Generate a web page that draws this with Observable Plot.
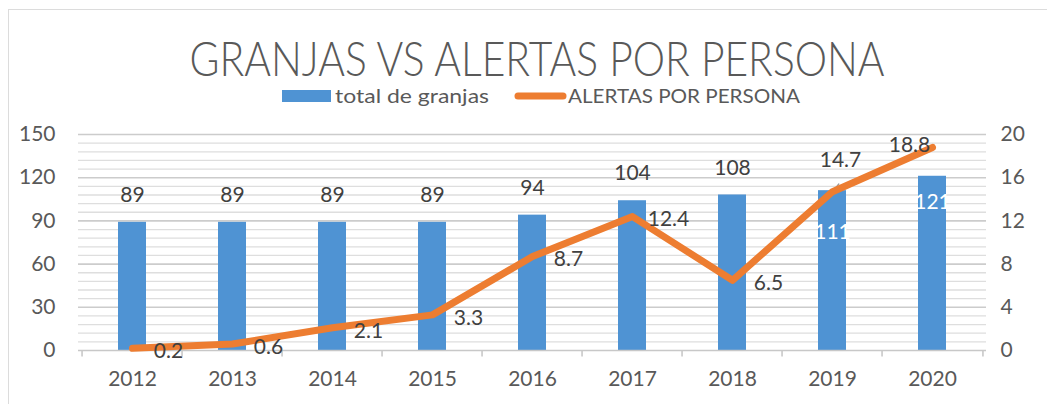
<!DOCTYPE html>
<html>
<head>
<meta charset="utf-8">
<script src="https://cdn.jsdelivr.net/npm/d3@7"></script>
<script src="https://cdn.jsdelivr.net/npm/@observablehq/plot@0.6"></script>
<style>
  html, body { margin: 0; padding: 0; background: #fff; }
  #wrap { position: relative; width: 1047px; height: 404px; overflow: hidden; font-family: Lato, "Open Sans", sans-serif; }
  #wrap > svg { position: absolute; left: 0; top: 0; }
</style>
</head>
<body>
<div id="wrap">
  <svg id="deco" width="1047" height="404" style="z-index:0">
    <rect x="8.5" y="9.5" width="1060" height="420" fill="none" stroke="#dcdcdc" stroke-width="1"/>
  </svg>
</div>
<script>
const title = "GRANJAS VS ALERTAS POR PERSONA";
const years = ["2012","2013","2014","2015","2016","2017","2018","2019","2020"];
const totalGranjas = [89, 89, 89, 89, 94, 104, 108, 111, 121];
const alertasPorPersona = [0.2, 0.6, 2.1, 3.3, 8.7, 12.4, 6.5, 14.7, 18.8];
const leftTicks = [0, 30, 60, 90, 120, 150];
const rightTicks = [0, 4, 8, 12, 16, 20];
const seriesNames = ["total de granjas", "ALERTAS POR PERSONA"];

const BLUE = "#4f93d3";
const ORANGE = "#ed7d31";
const TXT = "#595959";
const ratio = 150 / 20; // right axis 0–20 mapped onto left axis 0–150

const rows = years.map((y, i) => ({year: y, granjas: totalGranjas[i], alertas: alertasPorPersona[i], ay: alertasPorPersona[i] * ratio}));
const minor = d3.range(0, 151, 6).filter(v => v % 30 !== 0);
const step = (1047 - 61 - 78) / years.length;

const barsAbove = rows.filter(d => d.year !== "2019" && d.year !== "2020");
const lineRight = rows.filter(d => d.year !== "2019" && d.year !== "2020");

const chart = Plot.plot({
  width: 1047,
  height: 404,
  marginTop: 134,
  marginBottom: 54,
  marginLeft: 78,
  marginRight: 61,
  style: {fontFamily: "Lato, 'Open Sans', sans-serif", fontSize: "21px", color: TXT, background: "transparent"},
  x: {type: "band", domain: years, paddingInner: 0.72, paddingOuter: 0.36, label: null},
  y: {domain: [0, 150], label: null},
  marks: [
    Plot.ruleY(minor, {stroke: "#dedede", strokeWidth: 1.3}),
    Plot.ruleY(leftTicks.filter(v => v > 0), {stroke: "#cccccc", strokeWidth: 1.6}),
    Plot.barY(rows, {x: "year", y: "granjas", fill: BLUE}),
    Plot.ruleY([0], {stroke: "#c8c8c8", strokeWidth: 1.6}),
    Plot.ruleX(years, {x: d => d, dx: -step / 2, y1: 0, y2: -4.5, stroke: "#c8c8c8", strokeWidth: 1.6}),
    Plot.ruleX(years.slice(-1), {x: d => d, dx: step / 2, y1: 0, y2: -4.5, stroke: "#c8c8c8", strokeWidth: 1.6}),
    Plot.axisY(leftTicks, {anchor: "left", tickSize: 0, tickPadding: 23, fontSize: 21, fill: TXT}),
    Plot.axisY(leftTicks, {anchor: "right", tickSize: 0, tickPadding: 14, tickFormat: d => d / ratio, fontSize: 21, fill: TXT}),
    Plot.axisX(years, {anchor: "bottom", tickSize: 0, tickPadding: 21, fontSize: 21, fill: TXT}),
    Plot.text(barsAbove, {x: "year", y: "granjas", text: d => String(d.granjas), dy: -27, fill: "#404040", fontSize: 21}),
    Plot.text(rows.filter(d => d.year === "2019"), {x: "year", y: "granjas", text: d => String(d.granjas), dy: 42, fill: "#ffffff", fontSize: 21}),
    Plot.text(rows.filter(d => d.year === "2020"), {x: "year", y: "granjas", text: d => String(d.granjas), dy: 26, fill: "#ffffff", fontSize: 21}),
    Plot.vector(rows.filter(d => d.year === "2019"), {x: "year", y: "ay", rotate: 39, length: 20, stroke: "#9a9a9a", strokeWidth: 1.3,
      shape: {draw(ctx, l) { ctx.moveTo(0, 0); ctx.lineTo(0, -l); }}}),
    Plot.lineY(rows, {x: "year", y: "ay", stroke: ORANGE, strokeWidth: 7, strokeLinecap: "round", strokeLinejoin: "round"}),
    Plot.text(lineRight, {x: "year", y: "ay", text: d => String(d.alertas), dx: 36, dy: 3, fill: "#404040", fontSize: 21}),
    Plot.text(rows.filter(d => d.year === "2019"), {x: "year", y: "ay", text: d => String(d.alertas), dx: 8, dy: -31, fill: "#404040", fontSize: 21}),
    Plot.text(rows.filter(d => d.year === "2020"), {x: "year", y: "ay", text: d => String(d.alertas), dx: -23, dy: -2, fill: "#404040", fontSize: 21})
  ]
});
document.getElementById("wrap").appendChild(chart);

// title and legend overlay
const ns = "http://www.w3.org/2000/svg";
const over = document.createElementNS(ns, "svg");
over.setAttribute("width", 1047); over.setAttribute("height", 130);
const t = document.createElementNS(ns, "text");
t.setAttribute("x", 537); t.setAttribute("y", 76); t.setAttribute("text-anchor", "middle");
t.setAttribute("font-size", 48); t.setAttribute("font-weight", 300); t.setAttribute("fill", TXT);
t.setAttribute("font-family", "Lato, 'Open Sans', sans-serif");
t.setAttribute("textLength", 695); t.setAttribute("lengthAdjust", "spacingAndGlyphs");
t.textContent = title;
over.appendChild(t);
const sw = document.createElementNS(ns, "rect");
sw.setAttribute("x", 282); sw.setAttribute("y", 90); sw.setAttribute("width", 49); sw.setAttribute("height", 12); sw.setAttribute("fill", BLUE);
over.appendChild(sw);
const l1 = document.createElementNS(ns, "text");
l1.setAttribute("x", 335); l1.setAttribute("y", 103); l1.setAttribute("font-size", 19); l1.setAttribute("fill", TXT);
l1.setAttribute("font-family", "Lato, 'Open Sans', sans-serif");
l1.setAttribute("textLength", 154); l1.setAttribute("lengthAdjust", "spacingAndGlyphs");
l1.textContent = seriesNames[0];
over.appendChild(l1);
const ln = document.createElementNS(ns, "line");
ln.setAttribute("x1", 518); ln.setAttribute("x2", 563); ln.setAttribute("y1", 96); ln.setAttribute("y2", 96);
ln.setAttribute("stroke", ORANGE); ln.setAttribute("stroke-width", 7); ln.setAttribute("stroke-linecap", "round");
over.appendChild(ln);
const l2 = document.createElementNS(ns, "text");
l2.setAttribute("x", 568); l2.setAttribute("y", 103); l2.setAttribute("font-size", 19); l2.setAttribute("fill", TXT);
l2.setAttribute("font-family", "Lato, 'Open Sans', sans-serif");
l2.setAttribute("textLength", 232); l2.setAttribute("lengthAdjust", "spacingAndGlyphs");
l2.textContent = seriesNames[1];
over.appendChild(l2);
document.getElementById("wrap").appendChild(over);
</script>
</body>
</html>
